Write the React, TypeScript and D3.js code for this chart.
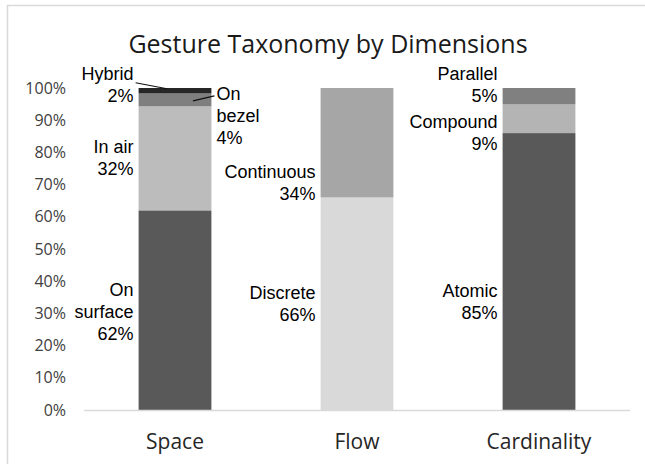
import React, { useEffect, useRef } from 'react';
import * as d3 from 'd3';

const categories = ['Space', 'Flow', 'Cardinality'];
const segmentNames = [
	['On surface', 'In air', 'On bezel', 'Hybrid'],
	['Discrete', 'Continuous'],
	['Atomic', 'Compound', 'Parallel'],
];
const segmentValues = [
	[62, 32.3, 4.0, 1.7],
	[66, 34],
	[86, 8.9, 5.1],
];
const segmentLabels = [
	[['On', 'surface', '62%'], ['In air', '32%'], ['On', 'bezel', '4%'], ['Hybrid', '2%']],
	[['Discrete', '66%'], ['Continuous', '34%']],
	[['Atomic', '85%'], ['Compound', '9%'], ['Parallel', '5%']],
];
const yTicks = [0, 10, 20, 30, 40, 50, 60, 70, 80, 90, 100];

// fill per segment
const fills = {
	'On surface': '#595959',
	'In air': '#bcbcbc',
	'On bezel': '#7f7f7f',
	Hybrid: '#262626',
	Discrete: '#d9d9d9',
	Continuous: '#a6a6a6',
	Atomic: '#595959',
	Compound: '#b4b4b4',
	Parallel: '#808080',
};

// label placement tweaks (pixels), excel labels were moved by hand
const labelOffset = {
	'On surface': 2,
	'In air': 0,
	'On bezel': 16,
	Hybrid: -6,
	Discrete: 0,
	Continuous: 40,
	Atomic: 30,
	Compound: 14,
	Parallel: -11,
};

const width = 645;
const height = 464;

const App = () => {
	const ref = useRef(null);

	useEffect(() => {
		const svg = d3.select(ref.current);
		svg.selectAll('*').remove();

		const m = { l: 84, r: 15, t: 88, b: 54 };
		const x = d3
			.scaleBand()
			.domain(categories)
			.range([m.l, width - m.r])
			.paddingInner(0.6)
			.paddingOuter(0.3);
		const y = d3.scaleLinear().domain([0, 100]).range([height - m.b, m.t]);

		// frame
		svg.append('path')
			.attr('d', `M7.5,${height}V5.5H${width}`)
			.attr('fill', 'none')
			.attr('stroke', '#d9d9d9')
			.attr('stroke-width', 1.5);

		svg.append('text')
			.attr('x', 328)
			.attr('y', 53)
			.attr('text-anchor', 'middle')
			.style('font-family', 'Open Sans')
			.style('font-size', '25px')
			.attr('fill', '#1a1a1a')
			.text('Gesture Taxonomy by Dimensions');

		// y ticks (no axis line)
		svg.append('g')
			.selectAll('text')
			.data(yTicks)
			.join('text')
			.attr('x', 66)
			.attr('y', d => y(d) + 5.5)
			.attr('text-anchor', 'end')
			.style('font-family', 'Open Sans')
			.style('font-size', '16px')
			.attr('fill', '#404040')
			.text(d => d + '%');

		const lh = 22;
		categories.forEach((cat, ci) => {
			const stack = d3.stack().keys(segmentNames[ci].map((_, i) => i))([segmentValues[ci]]);
			const g = svg.append('g');
			const bx = x(cat);
			const bw = x.bandwidth();
			const cx = bx + bw / 2;

			g.selectAll('rect')
				.data(stack)
				.join('rect')
				.attr('x', bx)
				.attr('width', bw)
				.attr('y', s => y(s[0][1]))
				.attr('height', s => y(s[0][0]) - y(s[0][1]))
				.attr('fill', (s, i) => fills[segmentNames[ci][i]]);

			stack.forEach((s, i) => {
				const name = segmentNames[ci][i];
				const lines = segmentLabels[ci][i];
				const mid = y((s[0][0] + s[0][1]) / 2);
				const first = mid - ((lines.length - 1) / 2) * lh + 6 + labelOffset[name];
				const right = name === 'On bezel';
				const tx = right ? bx + bw + 5 : bx - 5;
				g.append('text')
					.attr('text-anchor', right ? 'start' : 'end')
					.style('font-family', 'Liberation Sans')
					.style('font-size', '18px')
					.attr('fill', '#000')
					.selectAll('tspan')
					.data(lines)
					.join('tspan')
					.attr('x', tx)
					.attr('y', (d, k) => first + k * lh)
					.text(d => d);

				// leader lines for the thin top segments
				if (name === 'Hybrid') {
					g.append('line')
						.attr('x1', tx + 2).attr('y1', first + 3)
						.attr('x2', cx - 8).attr('y2', mid - 2)
						.attr('stroke', '#111').attr('stroke-width', 1.2);
				}
				if (name === 'On bezel') {
					g.append('line')
						.attr('x1', tx - 2).attr('y1', first - 4)
						.attr('x2', cx + 18).attr('y2', mid + 1)
						.attr('stroke', '#111').attr('stroke-width', 1.2);
				}
			});
		});

		// baseline
		svg.append('line')
			.attr('x1', m.l).attr('x2', width - m.r)
			.attr('y1', y(0) + 0.5).attr('y2', y(0) + 0.5)
			.attr('stroke', '#d9d9d9')
			.attr('stroke-width', 1.5);

		svg.append('g')
			.selectAll('text')
			.data(categories)
			.join('text')
			.attr('x', d => x(d) + x.bandwidth() / 2)
			.attr('y', 449)
			.attr('text-anchor', 'middle')
			.style('font-family', 'Open Sans')
			.style('font-size', '21px')
			.attr('fill', '#262626')
			.text(d => d);
	}, []);

	return (
		<svg
			ref={ref}
			width={width}
			height={height}
			style={{ position: 'absolute', left: 0, top: 0, background: '#fff' }}
		/>
	);
};

export default App;
